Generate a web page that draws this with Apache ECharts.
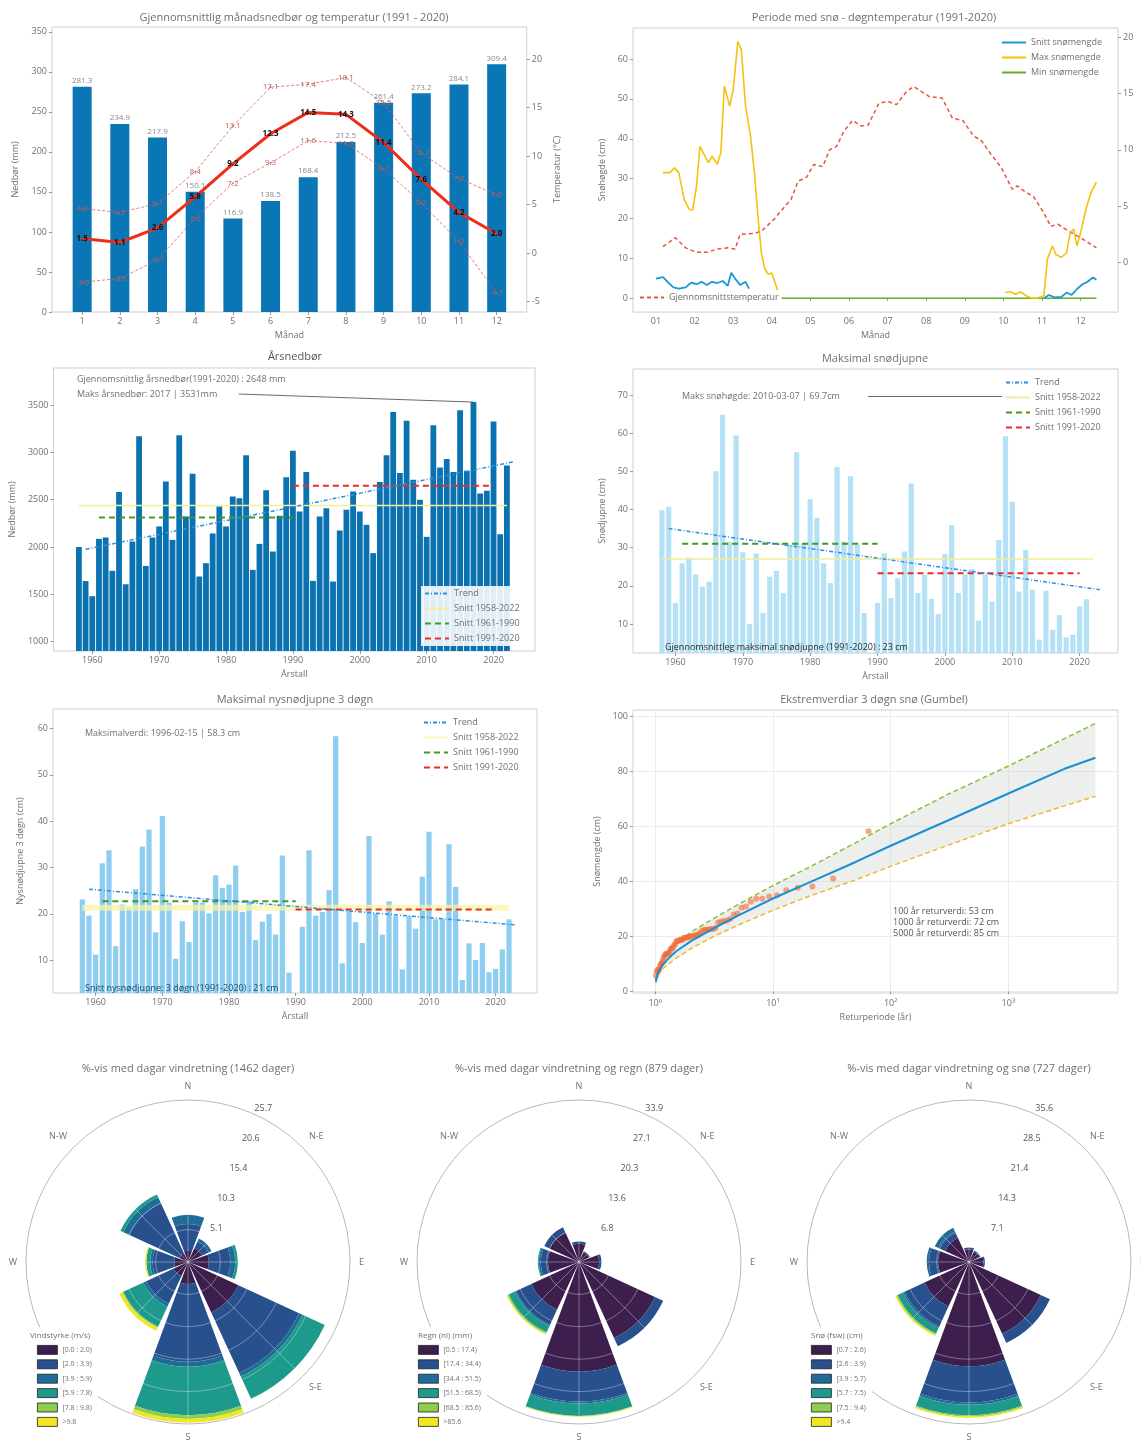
<!DOCTYPE html>
<html><head><meta charset="utf-8"><title>Klima</title>
<script src="https://cdn.jsdelivr.net/npm/echarts@6/dist/echarts.min.js"></script>
<style>
html,body{margin:0;padding:0;background:#fff}
body{width:1141px;height:1443px;position:relative;overflow:hidden}
.c{position:absolute}
</style></head><body>
<div id="p1" class="c" style="left:0;top:0;width:570px;height:345px"></div>
<div id="p2" class="c" style="left:570px;top:0;width:571px;height:345px"></div>
<div id="p3" class="c" style="left:0;top:345px;width:570px;height:345px"></div>
<div id="p4" class="c" style="left:570px;top:345px;width:571px;height:345px"></div>
<div id="p5" class="c" style="left:0;top:690px;width:570px;height:350px"></div>
<div id="p6" class="c" style="left:570px;top:690px;width:571px;height:350px"></div>
<div id="r1" class="c" style="left:0;top:1055px;width:380px;height:388px"></div>
<div id="r2" class="c" style="left:380px;top:1055px;width:380px;height:388px"></div>
<div id="r3" class="c" style="left:760px;top:1055px;width:381px;height:388px"></div>
<script>
// ================= DATA =================
// Panel 1: monthly precipitation and temperature 1991-2020
const months = [1,2,3,4,5,6,7,8,9,10,11,12];
const monthPrecip = [281.3,234.9,217.9,150.1,116.9,138.5,168.4,212.5,261.4,273.2,284.1,309.4];
const monthTempMean = [1.5,1.1,2.6,5.8,9.2,12.3,14.5,14.3,11.4,7.6,4.2,2.0];
const monthTempMax = [4.6,4.2,5.1,8.4,13.1,17.1,17.4,18.1,15.5,10.3,7.7,6.0];
const monthTempMin = [-3.0,-2.6,-0.7,3.6,7.2,9.3,11.6,11.3,8.7,5.2,1.2,-4.1];
const precipTicks = [0,50,100,150,200,250,300,350];
const tempTicks = [-5,0,5,10,15,20];

// Panel 2: snow period / daily temperature (x in month units)
const dayTempX = [1.18,1.50,1.77,2.05,2.32,2.59,2.86,3.05,3.18,3.59,3.77,4.05,4.27,4.50,4.68,4.91,5.09,5.32,5.50,5.68,5.86,6.09,6.32,6.50,6.77,7.00,7.23,7.50,7.68,7.91,8.09,8.41,8.68,8.95,9.23,9.41,9.68,9.95,10.23,10.36,10.59,10.77,11.05,11.23,11.41,11.68,11.95,12.14,12.41];
const dayTempY = [1.4,2.2,1.3,0.9,0.9,1.2,1.3,1.2,2.5,2.6,2.9,3.8,4.7,5.6,7.2,7.6,8.7,8.5,10.0,10.3,11.6,12.6,12.1,12.2,14.1,14.3,14.0,15.2,15.6,15.1,14.7,14.6,12.8,12.6,11.2,10.9,9.6,8.4,6.5,6.8,6.2,5.9,4.4,3.2,3.4,2.8,2.3,1.9,1.3];
const maxSnowSpringX = [1.18,1.36,1.48,1.59,1.73,1.86,1.95,2.05,2.14,2.27,2.36,2.45,2.59,2.68,2.77,2.91,3.00,3.12,3.21,3.32,3.45,3.55,3.64,3.73,3.82,3.91,4.00,4.14,4.15];
const maxSnowSpringY = [31.5,31.5,32.7,31.5,24.8,22.3,22.1,28.1,38.1,35.6,34.0,35.6,33.6,36.5,53.2,48.2,52.3,64.4,62.4,48.2,40.6,31.5,20.6,11.4,7.3,6.0,6.3,2.3,1.6];
const maxSnowAutumnX = [10.05,10.18,10.32,10.45,10.59,10.73,10.86,11.05,11.14,11.27,11.36,11.50,11.64,11.73,11.82,11.91,12.00,12.14,12.27,12.41];
const maxSnowAutumnY = [1.4,1.6,1.0,1.6,0.6,0,0,0.6,9.8,13.1,11.0,10.2,11.4,16.4,17.3,13.1,16.4,22.3,26.5,29.1];
const avgSnowSpringX = [1.00,1.18,1.32,1.45,1.59,1.77,1.91,2.05,2.18,2.32,2.45,2.59,2.73,2.86,2.95,3.05,3.18,3.32,3.41];
const avgSnowSpringY = [4.9,5.3,3.9,2.7,2.4,2.7,3.9,3.5,4.1,3.3,4.1,3.8,4.3,3.1,6.4,4.9,3.3,4.1,2.4];
const avgSnowAutumnX = [11.05,11.18,11.32,11.50,11.64,11.77,11.91,12.05,12.18,12.32,12.41];
const avgSnowAutumnY = [0,0.8,0.2,0.3,1.4,0.8,2.3,3.5,4.1,5.2,4.6];
const minSnowX = [1.00,12.41];
const minSnowY = [0,0];
const monthLabels = ['01','02','03','04','05','06','07','08','09','10','11','12'];

// Years 1958-2022
const years = Array.from({length:65},(_,i)=>1958+i);
const decadeTicks = [1960,1970,1980,1990,2000,2010,2020];

// Panel 3: annual precipitation
const annualPrecip = [2000,1640,1480,2086,2100,1748,2580,1606,2058,3169,1800,2100,2217,2693,2075,3180,2322,2774,1688,1829,2143,2428,2217,2534,2516,2968,1758,2033,2600,1952,2329,2738,3017,2375,2791,1642,2322,2410,1635,2174,2393,2587,2375,2234,1935,2686,2968,3426,2781,3334,2710,2499,2107,3285,2841,2929,2791,3444,2805,3531,2566,2594,3327,2135,2862];
const precipTrend = [[1959,1975],[2023,2900]];
const precipMeans = [2439,2312,2648];      // 1958-2022, 1961-1990, 1991-2020
const precipYTicks = [1000,1500,2000,2500,3000,3500];

// Panel 4: maximum snow depth
const maxSnowDepth = [39.8,40.7,15.5,25.9,27.4,23.0,19.8,21.1,50.0,64.8,31.6,59.4,28.8,10.0,28.5,12.9,22.4,23.9,18.1,30.7,55.0,31.0,42.7,37.8,25.9,20.7,51.1,31.6,48.7,30.7,12.9,null,15.5,28.5,16.8,22.0,29.0,46.8,18.1,22.9,16.6,12.6,28.3,35.9,18.1,22.9,24.4,10.9,22.9,15.9,32.0,59.2,42.0,18.5,29.4,19.0,5.9,18.7,8.5,12.3,6.5,7.2,14.6,16.5,null];
const snowTrend = [[1959,35.0],[2023,19.0]];
const snowMeans = [27.0,31.0,23.3];
const snowRecord = [2010.18,69.7];
const snowYTicks = [10,20,30,40,50,60,70];

// Panel 5: max 3-day new snow
const newSnow3d = [23.1,19.6,11.2,30.9,33.7,13.0,22.0,21.3,25.3,34.5,38.2,16.0,41.1,22.4,10.3,18.4,13.9,22.4,22.4,20.1,28.3,25.6,26.3,30.4,20.4,22.7,14.3,18.3,19.9,15.5,32.6,7.3,null,17.2,33.7,19.6,20.4,25.1,58.3,9.3,20.6,18.2,13.7,36.8,20.1,15.5,22.7,19.5,8.0,19.5,16.8,28.0,37.7,18.8,18.8,35.0,25.8,5.7,13.6,10.0,13.7,7.4,8.1,12.3,18.8];
const newSnowTrend = [[1959,25.3],[2023,17.6]];
const newSnowMeans = [21.3,22.7,20.9];
const newSnowYTicks = [10,20,30,40,50,60];

// Periods for the mean lines
const periodAll = [1958,2022];
const period6190 = [1961,1990];
const period9120 = [1990,2020];

// Panel 6: Gumbel
const gumbelT =     [1.01,1.05,1.15,1.3,1.5,2,3,5,10,20,50,100,300,1000,3000,5500];
const gumbelFit =   [3.5,6.5,9.5,12,14.5,18.2,22.5,27.5,33.8,39.5,47,53,62,72,81,85];
const gumbelUpper = [4,8,12,15,17.5,21.5,26,31.5,38.5,45,54,61,71.5,82,92,97.5];
const gumbelLower = [3,5.5,8,10,12,15.5,19.5,24,29.5,34.5,40.5,45.5,53,61,67.5,71];
const gumbelYTicks = [0,20,40,60,80,100];
const returnTexts = ['100 år returverdi: 53 cm','1000 år returverdi: 72 cm','5000 år returverdi: 85 cm'];

// Wind roses: direction order N, N-E, E, S-E, S, S-W, W, N-W
const roseDirs = ['N','N-E','E','S-E','S','S-W','W','N-W'];
const windBins = ['[0.0 : 2.0)','[2.0 : 3.9)','[3.9 : 5.9)','[5.9 : 7.8)','[7.8 : 9.8)','>9.8'];
const windL1 = [1.8,2.4,3.3,8.8,3.5,2.5,2.2,1.5];
const windL2 = [4.2,1.2,3.4,10.6,12.3,4.8,3.4,8.8];
const windL3 = [1.5,0.5,0.8,0.6,0.8,0.5,0.4,1.0];
const windL4 = [0,0,0.4,3.9,7.7,3.5,0.6,0.5];
const windL5 = [0,0,0,0,0.6,0.2,0,0];
const windL6 = [0,0,0,0,0.6,0.5,0.2,0];
const rainBins = ['[0.5 : 17.4)','[17.4 : 34.4)','[34.4 : 51.5)','[51.5 : 68.5)','[68.5 : 85.6)','>85.6'];
const rainL1 = [3.8,2.3,4.2,17.5,22.9,11.0,6.5,6.8];
const rainL2 = [0.5,0.2,0.5,1.9,6.3,3.5,1.5,1.2];
const rainL3 = [0,0,0,0,0.4,0.3,0.4,0];
const rainL4 = [0,0,0,0,2.6,1.4,0.2,0];
const rainL5 = [0,0,0,0,0.1,0.3,0,0];
const rainL6 = [0,0,0,0,0.1,0.2,0,0];
const snowBins = ['[0.7 : 2.6)','[2.6 : 3.9)','[3.9 : 5.7)','[5.7 : 7.5)','[7.5 : 9.4)','>9.4'];
const snowL1 = [2.8,2.5,3.2,17.4,22.9,10.8,6.8,5.8];
const snowL2 = [0.4,0.3,0.3,2.2,8.0,4.8,2.0,1.6];
const snowL3 = [0,0,0,0,0.5,0.4,0.5,0.9];
const snowL4 = [0,0,0,0,2.3,1.3,0,0];
const snowL5 = [0,0,0,0,0.3,0.3,0,0];
const snowL6 = [0,0,0,0,0.3,0.3,0,0];
const roseMax = [25.7,33.9,35.64];

// ================= HELPERS =================
const FONT = '"Open Sans","DejaVu Sans",sans-serif';
const TXT = '#707070';
const zip = (xs, ys) => xs.map((x,i)=>[x, ys[i]]);

function vAxis(o) {
  return {
    type:'value', min:o.min, max:o.max, position:o.pos,
    name:o.name, nameLocation:'middle', nameGap:o.gap, nameRotate:o.rot||0,
    nameTextStyle:{fontSize:9, color:TXT, fontFamily:FONT},
    axisLine:{show:false},
    axisTick:{show:true, length:3, customValues:o.ticks, lineStyle:{color:'#999'}},
    axisLabel:{show:true, fontSize:9, color:TXT, fontFamily:FONT, margin:5, customValues:o.ticks,
               formatter:o.fmt || (v=>String(v))},
    splitLine:{show:!!o.split, lineStyle:{color:'#ececec'}}
  };
}
function txt(t, x, y, o) {
  o = o || {};
  return {type:'text', x:x, y:y, z:100, silent:true,
    style:{text:t, fill:o.fill||TXT, font:(o.weight||'normal')+' '+(o.size||9)+'px '+FONT,
           textAlign:o.align||'left', align:o.align||'left',
           textVerticalAlign:'middle', verticalAlign:'middle'}};
}
function lineLegend(names, left, top, bg) {
  return {data:names, left:left, top:top, orient:'vertical', itemWidth:24, itemHeight:8, itemGap:6,
    itemStyle:{opacity:0},
    textStyle:{fontSize:9, color:TXT, fontFamily:FONT}, backgroundColor:bg||'transparent', padding:3,
    selectedMode:false, z:20};
}
const grid = (l,t,w,h) => ({left:l, top:t, width:w, height:h, show:true, borderColor:'#cfcfcf', borderWidth:1});

// ================= PANEL 1 =================
(function(){
  const c = echarts.init(document.getElementById('p1'));
  const tl = (name, vals, color, width, type, lab) => ({
    type:'line', name:name, yAxisIndex:1, data:zip(months, vals), symbol:'circle', symbolSize:2,
    lineStyle:{color:color, width:width, type:type}, itemStyle:{color:color},
    label:{show:true, position:'inside', fontSize:8, color:lab.color, fontWeight:lab.weight||'normal',
           fontFamily:FONT, formatter:p=>p.value[1].toFixed(1)}, z:lab.z||3});
  c.setOption({
    animation:false, textStyle:{fontFamily:FONT},
    grid:grid(52,27,484,285),
    xAxis:vAxis({min:0.2, max:12.8, ticks:months, name:'Månad', gap:18}),
    yAxis:[vAxis({min:0, max:356, ticks:precipTicks, name:'Nedbør (mm)', gap:32, rot:90, pos:'left'}),
           vAxis({min:-6.06, max:23.3, ticks:tempTicks, name:'Temperatur (°C)', gap:20, rot:90, pos:'right'})],
    series:[
      {type:'bar', data:zip(months, monthPrecip), barWidth:19, itemStyle:{color:'#0a76b6'},
       label:{show:true, position:'top', distance:2, fontSize:8, color:'#888', fontFamily:FONT,
              formatter:p=>p.value[1].toFixed(1)}},
      tl('Max', monthTempMax, 'rgba(226,80,80,0.75)', 1, [3,2], {color:'#b06060'}),
      tl('Min', monthTempMin, 'rgba(226,80,80,0.75)', 1, [3,2], {color:'#b06060'}),
      tl('Snitt', monthTempMean, '#ef2d1b', 3, 'solid', {color:'#111', weight:'bold', z:5})
    ],
    graphic:[txt('Gjennomsnittlig månadsnedbør og temperatur (1991 - 2020)', 294, 18, {size:11, align:'center'})]
  });
})();

// ================= PANEL 2 =================
(function(){
  const c = echarts.init(document.getElementById('p2'));
  const ln = (name, pts, color, width, type, yi) => ({type:'line', name:name, data:pts, yAxisIndex:yi||0,
    symbol:'none', lineStyle:{color:color, width:width, type:type||'solid'}, itemStyle:{color:color}});
  c.setOption({
    animation:false, textStyle:{fontFamily:FONT},
    grid:grid(63,28,485,285),
    xAxis:vAxis({min:0.404, max:12.97, ticks:months, name:'Månad', gap:18, fmt:v=>monthLabels[Math.round(v)-1]}),
    yAxis:[vAxis({min:-3.5, max:67.8, ticks:[0,10,20,30,40,50,60], name:'Snøhøgde (cm)', gap:26, rot:90, pos:'left'}),
           vAxis({min:-4.4, max:20.8, ticks:[0,5,10,15,20], pos:'right'})],
    legend:[lineLegend(['Snitt snømengde','Max snømengde','Min snømengde'], 428, 35, 'rgba(255,255,255,0.85)'),
            lineLegend(['Gjennomsnittstemperatur'], 66, 290, 'rgba(255,255,255,0.95)')],
    series:[
      ln('Min snømengde', zip(minSnowX, minSnowY), '#62ad2c', 1.5),
      ln('Gjennomsnittstemperatur', zip(dayTempX, dayTempY), '#e8553f', 1.5, [4,3], 1),
      ln('Max snømengde', zip(maxSnowSpringX, maxSnowSpringY), '#f4c20d', 1.6),
      ln('Max snømengde', zip(maxSnowAutumnX, maxSnowAutumnY), '#f4c20d', 1.6),
      ln('Snitt snømengde', zip(avgSnowSpringX, avgSnowSpringY), '#1a98d5', 1.8),
      ln('Snitt snømengde', zip(avgSnowAutumnX, avgSnowAutumnY), '#1a98d5', 1.8)
    ],
    graphic:[txt('Periode med snø - døgntemperatur (1991-2020)', 304, 18, {size:11, align:'center'})]
  });
})();

// ================= PANELS 3-5 =================
function yearPanel(id, o) {
  const c = echarts.init(document.getElementById(id));
  const ln = (name, pts, style) => ({type:'line', name:name, data:pts, symbol:'none', silent:true,
    lineStyle:style, itemStyle:{color:style.color}, z:3});
  const m = o.means;
  c.setOption({
    animation:false, textStyle:{fontFamily:FONT},
    grid:grid(o.grid[0],o.grid[1],o.grid[2],o.grid[3]),
    xAxis:vAxis({min:o.xmin, max:o.xmax, ticks:decadeTicks, name:'Årstall', gap:18}),
    yAxis:vAxis({min:o.ymin, max:o.ymax, ticks:o.yticks, name:o.yname, gap:o.ygap, rot:90}),
    legend:lineLegend(['Trend','Snitt 1958-2022','Snitt 1961-1990','Snitt 1991-2020'], o.leg[0], o.leg[1], o.legBg),
    series:[
      {type:'bar', data:zip(years, o.values), barWidth:o.barWidth, itemStyle:{color:o.barColor}, z:2,
       markLine:o.ann ? {silent:true, symbol:['none','none'], label:{show:false}, animation:false,
         lineStyle:{color:'#444', width:0.8, type:'solid'},
         data:[[{coord:o.ann[0]},{coord:o.ann[1]}]]} : undefined},
      ln('Snitt 1958-2022', [[periodAll[0],m[0]],[periodAll[1],m[0]]], o.allStyle),
      ln('Snitt 1961-1990', [[period6190[0],m[1]],[period6190[1],m[1]]], {color:'#3f9b1e', width:2, type:[6,4]}),
      ln('Snitt 1991-2020', [[period9120[0],m[2]],[period9120[1],m[2]]], {color:'#ec2b22', width:2, type:[6,4]}),
      ln('Trend', o.trend, {color:'#2f8de0', width:1.5, type:[4,2,1,2]})
    ],
    graphic:o.texts
  });
}

const pMaxIdx = annualPrecip.indexOf(Math.max.apply(null, annualPrecip));
yearPanel('p3', {
  grid:[52,23,483,283], xmin:1954.2, xmax:2026.2, ymin:901, ymax:3891, yticks:precipYTicks,
  yname:'Nedbør (mm)', ygap:36, values:annualPrecip, barWidth:5.8, barColor:'#0b72b1',
  means:precipMeans, trend:precipTrend, allStyle:{color:'#f2ee9a', width:1.5, type:'solid'},
  leg:[421,241], legBg:'rgba(255,255,255,0.88)',
  ann:[[1981.9,3616],[years[pMaxIdx], annualPrecip[pMaxIdx]]],
  texts:[txt('Årsnedbør', 295, 12, {size:11, align:'center', fill:'#555'}),
         txt('Gjennomsnittlig årsnedbør(1991-2020) : 2648 mm', 77, 34),
         txt('Maks årsnedbør: 2017 | 3531mm', 77, 49)]
});
yearPanel('p4', {
  grid:[63,24,485,284], xmin:1953.7, xmax:2025.7, ymin:2.4, ymax:76.8, yticks:snowYTicks,
  yname:'Snødjupne (cm)', ygap:26, values:maxSnowDepth, barWidth:5.2, barColor:'#b5e1f6',
  means:snowMeans, trend:snowTrend, allStyle:{color:'#f0ec9c', width:1.5, type:'solid'},
  leg:[432,30], legBg:'rgba(255,255,255,0.9)',
  ann:[[1988.6, snowRecord[1]], snowRecord],
  texts:[txt('Maksimal snødjupne', 305, 14, {size:11, align:'center'}),
         txt('Maks snøhøgde: 2010-03-07 | 69.7cm', 112, 51),
         txt('Gjennomsnittleg maksimal snødjupne (1991-2020) : 23 cm', 95, 302, {fill:'#2b2b2b'})]
});
yearPanel('p5', {
  grid:[53,19,484,284], xmin:1953.6, xmax:2026.2, ymin:2.9, ymax:64.2, yticks:newSnowYTicks,
  yname:'Nysnødjupne 3 døgn (cm)', ygap:28, values:newSnow3d, barWidth:5.2, barColor:'#8dcdf0',
  means:newSnowMeans, trend:newSnowTrend, allStyle:{color:'rgba(247,243,170,0.75)', width:6, type:'solid'},
  leg:[420,25], legBg:'rgba(255,255,255,0.85)',
  texts:[txt('Maksimal nysnødjupne 3 døgn', 295, 10, {size:11, align:'center'}),
         txt('Maksimalverdi: 1996-02-15 | 58.3 cm', 85, 43),
         txt('Snitt nysnødjupne: 3 døgn (1991-2020) : 21 cm', 85, 298, {fill:'#1c4e66'})]
});

// ================= PANEL 6 =================
(function(){
  const c = echarts.init(document.getElementById('p6'));
  const obs = newSnow3d.filter(v=>v!=null).slice().sort((a,b)=>b-a);
  const n = obs.length;
  const sup = ['⁰','¹','²','³','⁴'];
  c.setOption({
    animation:false, textStyle:{fontFamily:FONT},
    grid:grid(63,20,485,283),
    xAxis:{type:'log', logBase:10, min:0.648, max:8550, name:'Returperiode (år)', nameLocation:'middle', nameGap:20,
      nameTextStyle:{fontSize:9, color:TXT, fontFamily:FONT}, axisLine:{show:false},
      axisTick:{show:true, length:3, lineStyle:{color:'#999'}},
      axisLabel:{fontSize:9, color:TXT, fontFamily:FONT, margin:6, showMinLabel:false, showMaxLabel:false,
        formatter:v=>{const l=Math.log10(v), e=Math.round(l); return Math.abs(l-e)<0.01 ? '10'+sup[e] : '';}},
      splitLine:{show:true, lineStyle:{color:'#ececec'}}},
    yAxis:vAxis({min:-0.6, max:102.4, ticks:gumbelYTicks, name:'Snømengde (cm)', gap:26, rot:90, split:true}),
    series:[
      {type:'custom', silent:true, z:1, data:[[gumbelT[0], gumbelFit[0]]],
       renderItem:(params, api) => {
         const pts = gumbelT.map((t,i)=>api.coord([t, gumbelUpper[i]]));
         for (let i = gumbelT.length-1; i >= 0; i--) pts.push(api.coord([gumbelT[i], gumbelLower[i]]));
         return {type:'polygon', shape:{points:pts}, style:{fill:'rgba(200,210,200,0.35)'}};
       }},
      {type:'line', data:zip(gumbelT, gumbelUpper), symbol:'none', lineStyle:{color:'#8dbf3f', width:1.5, type:[5,3]}},
      {type:'line', data:zip(gumbelT, gumbelLower), symbol:'none', lineStyle:{color:'#f2b630', width:1.5, type:[5,3]}},
      {type:'scatter', data:obs.map((v,i)=>[(n+1)/(i+1), v]), symbolSize:6,
       itemStyle:{color:'#f26b38', opacity:0.6}, z:4},
      {type:'line', data:zip(gumbelT, gumbelFit), symbol:'none', lineStyle:{color:'#1a8fd5', width:2}, z:5}
    ],
    graphic:[txt('Ekstremverdiar 3 døgn snø (Gumbel)', 304, 10, {size:11, align:'center'}),
             txt(returnTexts[0], 323, 221, {fill:'#555'}),
             txt(returnTexts[1], 323, 232, {fill:'#555'}),
             txt(returnTexts[2], 323, 243, {fill:'#555'})]
  });
})();

// ================= WIND ROSES =================
const roseColors = ['#3d1f4e','#27508d','#1f6d97','#1e9a8c','#8ccf50','#f2e522'];
function rose(id, o) {
  const c = echarts.init(document.getElementById(id));
  const rot = a => a.slice(1).concat(a.slice(0,1));   // start at N-E for startAngle 67.5
  const cy = 207, R = 162;
  const series = o.levels.map((lv,i)=>({type:'bar', coordinateSystem:'polar', polarIndex:0, stack:'w',
    name:o.bins[i], data:rot(lv), barCategoryGap:'10%', itemStyle:{color:roseColors[i]}, z:2}));
  c.setOption({
    animation:false, textStyle:{fontFamily:FONT},
    polar:[{center:[o.cx,cy], radius:R},{center:[o.cx,cy], radius:R}],
    angleAxis:[
      {polarIndex:0, type:'category', data:rot(roseDirs), startAngle:67.5, clockwise:true, boundaryGap:true, z:11,
       axisLine:{show:true, lineStyle:{color:'#b8b8b8', width:1}}, axisTick:{show:false}, splitLine:{show:false},
       axisLabel:{margin:9, fontSize:9, color:TXT, fontFamily:FONT}},
      {polarIndex:1, type:'value', min:0, max:360, interval:45, startAngle:90, z:10,
       axisLine:{show:false}, axisTick:{show:false}, axisLabel:{show:false},
       splitLine:{show:true, lineStyle:{color:'rgba(255,255,255,0.35)', width:1}}}
    ],
    radiusAxis:[
      {polarIndex:0, type:'value', min:0, max:o.rmax, interval:o.rmax/5, axisLine:{show:false}, axisTick:{show:false},
       splitLine:{show:false},
       axisLabel:{showMinLabel:false, showMaxLabel:true, hideOverlap:false, fontSize:9, color:'#555', fontFamily:FONT,
                  margin:-24, lineHeight:26, verticalAlign:'bottom', formatter:v=>v.toFixed(1)}},
      {polarIndex:1, type:'value', min:0, max:o.rmax, interval:o.rmax/5, z:10, axisLine:{show:false},
       axisTick:{show:false}, axisLabel:{show:false},
       splitLine:{show:true, lineStyle:{color:'rgba(255,255,255,0.35)', width:1}}}
    ],
    legend:{data:o.bins, left:o.lx - 6, top:272, orient:'vertical', icon:'rect', itemWidth:20, itemHeight:9, itemGap:4.6,
      padding:[18,6,4,6], backgroundColor:'rgba(255,255,255,0.92)',
      textStyle:{fontSize:7, color:TXT, fontFamily:FONT}, itemStyle:{borderColor:'#222', borderWidth:0.8},
      selectedMode:false, z:20},
    series:series,
    graphic:[txt(o.title, o.cx, 14, {size:11, align:'center'}),
             {type:'text', x:o.tx, y:281, z:120, silent:true,
              style:{text:o.ltitle, fill:TXT, font:'8px '+FONT, textVerticalAlign:'middle', verticalAlign:'middle'}}]
  });
}
rose('r1', {cx:188, title:'%-vis med dagar vindretning (1462 dager)', ltitle:'Vindstyrke (m/s)', lx:37, tx:30,
  bins:windBins, rmax:roseMax[0], levels:[windL1,windL2,windL3,windL4,windL5,windL6]});
rose('r2', {cx:199, title:'%-vis med dagar vindretning og regn (879 dager)', ltitle:'Regn (nl) (mm)', lx:38, tx:38,
  bins:rainBins, rmax:roseMax[1], levels:[rainL1,rainL2,rainL3,rainL4,rainL5,rainL6]});
rose('r3', {cx:209, title:'%-vis med dagar vindretning og snø (727 dager)', ltitle:'Snø (fsw) (cm)', lx:51, tx:51,
  bins:snowBins, rmax:roseMax[2], levels:[snowL1,snowL2,snowL3,snowL4,snowL5,snowL6]});
</script></body></html>
